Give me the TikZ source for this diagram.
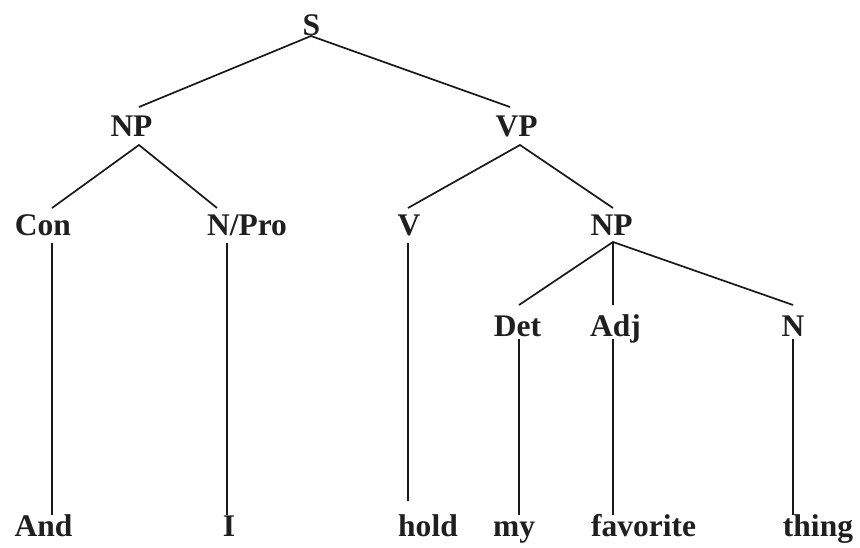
\documentclass[tikz,border=0pt]{standalone}
\usepackage{fontspec}
\setmainfont{Liberation Serif}
\begin{document}
\begin{tikzpicture}[x=1bp,y=-1bp,
  lbl/.style={anchor=base,inner sep=0pt,font=\fontsize{31.5bp}{36bp}\selectfont\bfseries,text=black!88},
  edge/.style={line width=1.7bp,black!90}]
\useasboundingbox (0,0) rectangle (860,548);
% labels
\node[lbl] (S)   at (311.5,36) {S};
\node[lbl] (NP)  at (131.5,137) {NP};
\node[lbl] (VP)  at (516.5,137) {VP};
\node[lbl] (Con) at (43,236) {Con};
\node[lbl] (NPro) at (247,236) {N/Pro};
\node[lbl] (V)   at (409,236) {V};
\node[lbl] (NPb) at (611.5,236) {NP};
\node[lbl] (Det) at (517.5,337) {Det};
\node[lbl] (Adj) at (615.5,337) {Adj};
\node[lbl] (N)   at (793,337) {N};
\node[lbl] (And) at (43.5,536) {And};
\node[lbl] (I)   at (229,536) {I};
\node[lbl] (hold) at (428,536) {hold};
\node[lbl] (my)  at (514,536) {my};
\node[lbl] (fav) at (643.5,536) {favorite};
\node[lbl] (thing) at (818,536) {thing};
% attachment points
\coordinate (S-b) at (311,36);
\coordinate (NP-t) at (139,107);  \coordinate (NP-b) at (139,145);
\coordinate (VP-t) at (510,107);  \coordinate (VP-b) at (520,145);
\coordinate (Con-t) at (52,208);  \coordinate (Con-b) at (52,243);
\coordinate (NPro-t) at (217,208); \coordinate (NPro-b) at (227,243);
\coordinate (V-t) at (408,208);   \coordinate (V-b) at (408,243);
\coordinate (NPb-t) at (613,208); \coordinate (NPb-b) at (613,242);
\coordinate (Det-t) at (519,305); \coordinate (Det-b) at (519,339);
\coordinate (Adj-t) at (613,305); \coordinate (Adj-b) at (613,339);
\coordinate (N-t) at (793,305);   \coordinate (N-b) at (793,339);
\coordinate (And-t) at (52,515);
\coordinate (I-t) at (227,515);
\coordinate (hold-t) at (408,501);
\coordinate (my-t) at (519,515);
\coordinate (fav-t) at (613,515);
\coordinate (thing-t) at (793,515);
% edges
\draw[edge] (NP-t) -- (S-b) -- (VP-t);
\draw[edge] (Con-t) -- (NP-b) -- (NPro-t);
\draw[edge] (V-t) -- (VP-b) -- (NPb-t);
\draw[edge] (Det-t) -- (NPb-b) -- (N-t);
\draw[edge] (NPb-b) -- (Adj-t);
\draw[edge] (Con-b) -- (And-t);
\draw[edge] (NPro-b) -- (I-t);
\draw[edge] (V-b) -- (hold-t);
\draw[edge] (Det-b) -- (my-t);
\draw[edge] (Adj-b) -- (fav-t);
\draw[edge] (N-b) -- (thing-t);
\end{tikzpicture}
\end{document}
